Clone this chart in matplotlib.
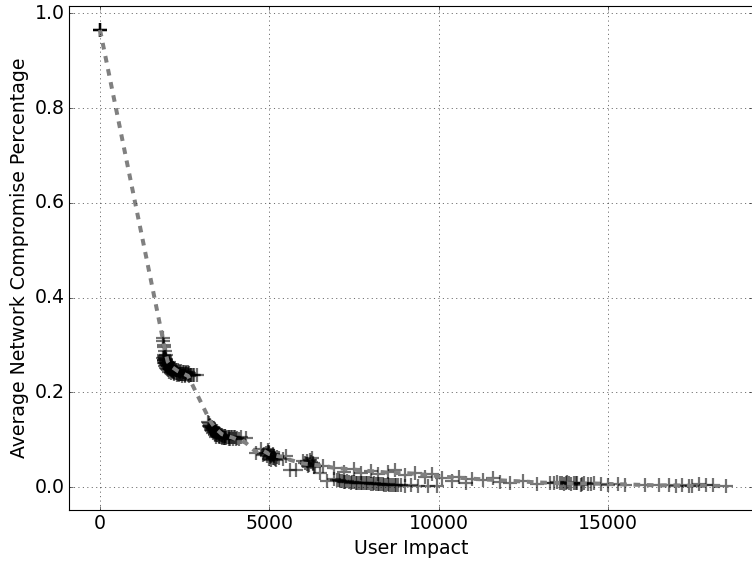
import numpy as np
import matplotlib
matplotlib.use('Agg')
import matplotlib.pyplot as plt

plt.style.use('classic')
plt.rcParams['font.size'] = 17

# individual runs (every run starts from the same point)
run_x = [0, 0, 0, 0, 0,
         # first cluster
         1850, 1870, 1880, 1900, 1910, 1950,
         1860, 1880, 1900, 1920, 1930, 1950, 1960, 1980, 2000, 2020, 2050, 2080, 2100, 2120, 2150, 2200,
         2200, 2250, 2300, 2350, 2400, 2450, 2500, 2550, 2600, 2700, 2750, 2850,
         1900, 1920, 1940, 1960, 1980, 2000, 2030, 2060, 2090, 2120, 2160, 2200,
         2240, 2280, 2320, 2360, 2400, 2450, 2500, 2550, 2600, 2650, 2700, 2780,
         1890, 1910, 1930, 1955, 1985, 2010, 2040, 2070, 2110, 2150, 2190, 2240,
         2290, 2340, 2390, 2440, 2490, 2540, 2590, 2640,
         1880, 1895, 1915, 1940, 1970, 2000, 2050, 2100, 2180, 2260, 2330, 2420, 2520, 2620,
         # second cluster
         3200, 3250, 3300, 3300, 3350, 3400, 3450, 3450, 3500, 3550, 3600, 3650, 3700, 3800,
         3900, 4000, 4150, 4300,
         3220, 3260, 3300, 3340, 3380, 3420, 3460, 3500, 3560, 3620, 3680, 3740,
         3800, 3880, 3960, 4050,
         3240, 3280, 3320, 3370, 3410, 3450, 3500, 3550, 3610, 3670, 3730, 3820, 3920, 4020,
         3210, 3270, 3330, 3390, 3440, 3520, 3590, 3700, 3850, 4100,
         # around 5000
         4600, 4750, 4800, 4900, 4950, 5000, 5000, 5050, 5100, 5150, 5200, 5300, 5400, 5500,
         4850, 4920, 4980, 5020, 5060, 5100, 5140, 5180, 5230, 4960, 5040, 5120,
         # around 6000
         5600, 5800, 6000, 6100, 6150, 6200, 6250, 6300, 6350, 6500, 6700,
         6050, 6120, 6180, 6230, 6280, 6330,
         # lower band
         6900, 7000, 7100, 7200, 7300, 7400, 7500, 7600, 7700, 7800, 7900, 8000, 8100, 8200,
         8300, 8400, 8500, 8600, 8700, 8800, 9000, 9200, 9400, 9700, 9950,
         7050, 7150, 7250, 7350, 7450, 7550, 7650, 7750, 7850, 7950, 8050, 8150, 8250, 8350,
         8450, 8550, 8650, 8750, 8900,
         # upper band
         6600, 6900, 7200, 7500, 7700, 8000, 8200, 8500, 8700, 9000, 9300, 9600, 9800,
         10100, 10400, 10600, 10800, 11000, 11300, 11600, 11800, 12100, 12500, 12900,
         # tail
         13300, 13400, 13500, 13600, 13700, 13800, 13900, 14000, 14100, 14200, 14300, 14400,
         14600, 14800, 15000, 15300, 15500,
         13650, 13750, 13850, 14050, 14250, 14500,
         16100, 16500, 16800, 17000, 17200, 17400, 17500, 17700, 17900, 18100, 18500]
run_y = [0.965, 0.965, 0.965, 0.965, 0.965,
         0.315, 0.308, 0.300, 0.295, 0.288, 0.280,
         0.272, 0.268, 0.266, 0.262, 0.262, 0.270, 0.258, 0.260, 0.262, 0.255, 0.265, 0.250, 0.255, 0.248, 0.245, 0.242,
         0.250, 0.247, 0.240, 0.243, 0.238, 0.240, 0.236, 0.241, 0.239, 0.236, 0.237, 0.236,
         0.275, 0.270, 0.266, 0.262, 0.258, 0.255, 0.252, 0.250, 0.248, 0.246, 0.244, 0.243,
         0.242, 0.241, 0.240, 0.240, 0.239, 0.239, 0.238, 0.238, 0.237, 0.237, 0.237, 0.236,
         0.280, 0.276, 0.272, 0.268, 0.265, 0.262, 0.259, 0.256, 0.253, 0.251, 0.249, 0.248,
         0.247, 0.246, 0.245, 0.244, 0.244, 0.243, 0.243, 0.242,
         0.268, 0.262, 0.256, 0.252, 0.250, 0.247, 0.244, 0.241, 0.239, 0.237, 0.236, 0.235, 0.234, 0.234,
         0.138, 0.132, 0.128, 0.118, 0.125, 0.120, 0.118, 0.110, 0.115, 0.113, 0.110, 0.104, 0.108, 0.107,
         0.106, 0.105, 0.106, 0.104,
         0.135, 0.130, 0.126, 0.122, 0.120, 0.117, 0.115, 0.113, 0.111, 0.109, 0.108, 0.107,
         0.106, 0.105, 0.105, 0.104,
         0.128, 0.124, 0.120, 0.116, 0.113, 0.111, 0.109, 0.107, 0.106, 0.104, 0.103, 0.102, 0.102, 0.101,
         0.130, 0.121, 0.114, 0.110, 0.107, 0.105, 0.104, 0.103, 0.101, 0.102,
         0.072, 0.080, 0.068, 0.072, 0.078, 0.075, 0.060, 0.065, 0.070, 0.062, 0.058, 0.062, 0.060, 0.066,
         0.070, 0.066, 0.072, 0.064, 0.068, 0.062, 0.066, 0.060, 0.063, 0.074, 0.058, 0.068,
         0.036, 0.036, 0.055, 0.050, 0.045, 0.058, 0.062, 0.052, 0.045, 0.030, 0.014,
         0.052, 0.056, 0.048, 0.054, 0.050, 0.042,
         0.018, 0.015, 0.014, 0.012, 0.013, 0.010, 0.011, 0.009, 0.010, 0.008, 0.009, 0.007, 0.008, 0.006,
         0.007, 0.005, 0.006, 0.004, 0.005, 0.004, 0.003, 0.004, 0.002, 0.003, 0.002,
         0.016, 0.013, 0.012, 0.011, 0.011, 0.010, 0.009, 0.008, 0.008, 0.008, 0.007, 0.007, 0.006, 0.006,
         0.005, 0.005, 0.005, 0.004, 0.004,
         0.045, 0.040, 0.032, 0.038, 0.030, 0.035, 0.028, 0.032, 0.036, 0.025, 0.030, 0.022, 0.027,
         0.020, 0.014, 0.022, 0.010, 0.018, 0.015, 0.020, 0.012, 0.008, 0.014, 0.006,
         0.010, 0.008, 0.012, 0.009, 0.007, 0.011, 0.006, 0.009, 0.008, 0.005, 0.009, 0.007,
         0.008, 0.006, 0.005, 0.006, 0.004,
         0.009, 0.008, 0.010, 0.008, 0.007, 0.006,
         0.005, 0.004, 0.004, 0.003, 0.005, 0.003, 0.003, 0.006, 0.004, 0.005, 0.003]

# averaged curve (grey dashed)
avg_x = [0, 1850, 1880, 1900, 1950, 2000, 2100, 2300, 2600,
         3250, 3400, 3600, 3900, 4300, 4600, 4750, 5000, 5300, 5500, 5600, 6000, 6300, 6600,
         7000, 7400, 7800, 8200, 8600, 9000, 9400, 9800, 10200, 10600, 11000, 11500,
         12000, 12500, 13000, 13500, 14000, 14500, 15000, 15500, 16000, 16500, 17000,
         17500, 18000, 18500]
avg_y = [0.965, 0.315, 0.305, 0.295, 0.280, 0.265, 0.255, 0.245, 0.235,
         0.140, 0.125, 0.112, 0.105, 0.094, 0.075, 0.080, 0.070, 0.065, 0.065, 0.058, 0.050, 0.048, 0.045,
         0.040, 0.038, 0.035, 0.033, 0.030, 0.030, 0.028, 0.025, 0.022, 0.020, 0.018, 0.016,
         0.014, 0.012, 0.010, 0.009, 0.008, 0.008, 0.007, 0.006, 0.005, 0.004, 0.004,
         0.003, 0.003, 0.002]

fig = plt.figure(figsize=(9.4, 7.025), dpi=80, facecolor='white')
ax = fig.add_axes([0.0918, 0.0925, 0.9092, 0.8965])

ax.plot(run_x, run_y, '+', color='black', alpha=0.55, markersize=12, markeredgewidth=2.0)
ax.plot(avg_x, avg_y, '--', color='0.5', linewidth=3.6)

ax.set_xlim(-915, 19280)
ax.set_ylim(-0.048, 1.015)
ax.set_xticks([0, 5000, 10000, 15000])
ax.set_yticks([0.0, 0.2, 0.4, 0.6, 0.8, 1.0])
ax.grid(True)

ax.set_xlabel('User Impact')
ax.set_ylabel('Average Network Compromise Percentage')

fig.savefig('out.png', dpi=80, facecolor='white')
